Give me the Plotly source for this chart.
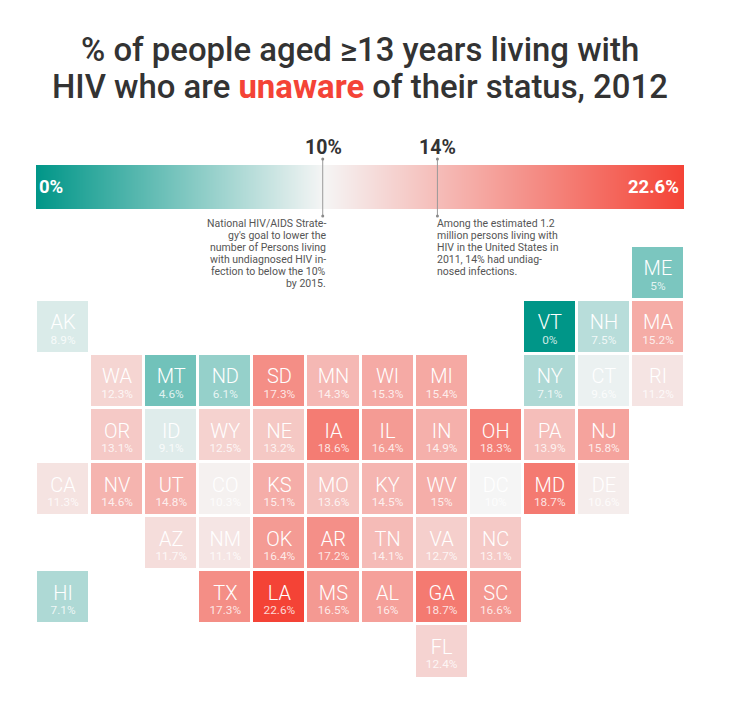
import plotly.graph_objects as go

# Tile-grid map of the United States
states = ["ME",
          "AK", "VT", "NH", "MA",
          "WA", "MT", "ND", "SD", "MN", "WI", "MI", "NY", "CT", "RI",
          "OR", "ID", "WY", "NE", "IA", "IL", "IN", "OH", "PA", "NJ",
          "CA", "NV", "UT", "CO", "KS", "MO", "KY", "WV", "DC", "MD", "DE",
          "AZ", "NM", "OK", "AR", "TN", "VA", "NC",
          "HI", "TX", "LA", "MS", "AL", "GA", "SC",
          "FL"]
columns = [11,
           0, 9, 10, 11,
           1, 2, 3, 4, 5, 6, 7, 9, 10, 11,
           1, 2, 3, 4, 5, 6, 7, 8, 9, 10,
           0, 1, 2, 3, 4, 5, 6, 7, 8, 9, 10,
           2, 3, 4, 5, 6, 7, 8,
           0, 3, 4, 5, 6, 7, 8,
           7]
rows = [0,
        1, 1, 1, 1,
        2, 2, 2, 2, 2, 2, 2, 2, 2, 2,
        3, 3, 3, 3, 3, 3, 3, 3, 3, 3,
        4, 4, 4, 4, 4, 4, 4, 4, 4, 4, 4,
        5, 5, 5, 5, 5, 5, 5,
        6, 6, 6, 6, 6, 6, 6,
        7]
values = [5,
          8.9, 0, 7.5, 15.2,
          12.3, 4.6, 6.1, 17.3, 14.3, 15.3, 15.4, 7.1, 9.6, 11.2,
          13.1, 9.1, 12.5, 13.2, 18.6, 16.4, 14.9, 18.3, 13.9, 15.8,
          11.3, 14.6, 14.8, 10.3, 15.1, 13.6, 14.5, 15, 10, 18.7, 10.6,
          11.7, 11.1, 16.4, 17.2, 14.1, 12.7, 13.1,
          7.1, 17.3, 22.6, 16.5, 16, 18.7, 16.6,
          12.4]

scale_stops = [0, 10, 22.6]
scale_colors = ["#009688", "#f5f5f5", "#f44336"]
markers = [10, 14]

title_lines = ["% of people aged ≥13 years living with",
               "HIV who are <b><span style='color:#f44336'>unaware</span></b> of their status, 2012"]
goal_note = ["National HIV/AIDS Strate-", "gy's goal to lower the", "number of Persons living",
             "with undiagnosed HIV in-", "fection to below the 10%", "by 2015."]
estimate_note = ["Among the estimated 1.2", "million persons living with", "HIV in the United States in",
                 "2011, 14% had undiag-", "nosed infections."]

W, H = 729, 701
FONT = "Roboto"
INK = "#333333"


def px(x):
    return x / W


def py(y):
    return 1 - y / H


def page_text(x, y, text, size, color=INK, anchor="center", weight=None):
    font = dict(family=FONT, size=size, color=color)
    if weight:
        font["weight"] = weight
    return dict(xref="paper", yref="paper", x=px(x), y=py(y), text=text, showarrow=False,
                xanchor=anchor, yanchor="middle", font=font, borderpad=0, borderwidth=0)


low, high = scale_stops[0], scale_stops[-1]
colorscale = [[(s - low) / (high - low), c] for s, c in zip(scale_stops, scale_colors)]
value_labels = [f"{v:g}%" for v in values]

fig = go.Figure()

# Tiles
fig.add_trace(go.Heatmap(x=columns, y=rows, z=values, coloraxis="coloraxis", xgap=3, ygap=3,
                         hoverongaps=False, text=states, hoverinfo="text+z"))
fig.add_trace(go.Scatter(x=columns, y=[r - 0.05 for r in rows], text=states, mode="text",
                         textposition="middle center", hoverinfo="skip",
                         textfont=dict(family=FONT, size=20, color="white", weight=300)))
fig.add_trace(go.Scatter(x=columns, y=[r + 0.26 for r in rows], text=value_labels, mode="text",
                         textposition="middle center", hoverinfo="skip",
                         textfont=dict(family=FONT, size=11.8, color="rgba(255,255,255,0.8)")))

# Gradient scale bar, interpolated between its stops
fig.add_trace(go.Heatmap(x=scale_stops, y=[0, 1], z=[scale_stops, scale_stops], coloraxis="coloraxis",
                         zsmooth="best", xaxis="x2", yaxis="y2", hoverinfo="skip"))

# Leader lines for the two reference percentages
for m in markers:
    fig.add_trace(go.Scatter(x=[m, m], y=[0, 1], xaxis="x2", yaxis="y3", mode="lines+markers",
                             line=dict(color="#999999", width=1), marker=dict(size=3, color="#8a8a8a"),
                             cliponaxis=False, hoverinfo="skip"))

hidden = dict(visible=False, showgrid=False, zeroline=False, fixedrange=True)
annotations = [
    page_text(W / 2 - 4.5, 50, title_lines[0], 32.9, weight=500),
    page_text(W / 2 - 5, 87, title_lines[1], 32.9, weight=500),
    page_text(323, 147, "<b>10%</b>", 19.5),
    page_text(437.5, 147, "<b>14%</b>", 19.5),
    page_text(39, 187, "<b>0%</b>", 18.5, color="white", anchor="left"),
    page_text(679, 187, "<b>22.6%</b>", 18.5, color="white", anchor="right"),
]
for i, line in enumerate(goal_note):
    annotations.append(page_text(326, 223 + i * 12.1, line, 10.5, color="#555555", anchor="right"))
for i, line in enumerate(estimate_note):
    annotations.append(page_text(437, 223 + i * 12.1, line, 10.5, color="#555555", anchor="left"))

fig.update_layout(
    width=W, height=H, margin=dict(l=0, r=0, t=0, b=0, autoexpand=False),
    paper_bgcolor="white", plot_bgcolor="rgba(0,0,0,0)", showlegend=False,
    coloraxis=dict(colorscale=colorscale, cmin=low, cmax=high, showscale=False),
    xaxis=dict(domain=[px(36), px(685)], range=[-0.5, 11.5], **hidden),
    yaxis=dict(domain=[py(678.5), py(246)], range=[7.5, -0.5], **hidden),
    xaxis2=dict(domain=[px(36), px(684)], range=[low, high], anchor="y2", **hidden),
    yaxis2=dict(domain=[py(209), py(165)], range=[0, 1], anchor="x2", **hidden),
    yaxis3=dict(domain=[py(216), py(159)], range=[0, 1], anchor="x2", **hidden),
    annotations=annotations,
)

fig.write_html("out.html", config=dict(displayModeBar=False))
